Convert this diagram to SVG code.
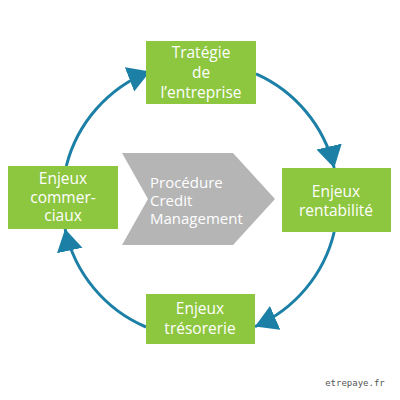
<svg xmlns="http://www.w3.org/2000/svg" width="400" height="400" viewBox="0 0 400 400">
<style>
.box{fill:#8dc63f}
.t{fill:#ffffff;font-family:"Open Sans","Noto Sans",sans-serif;font-size:15.5px;text-anchor:middle}
.ct{fill:#ffffff;font-family:"Open Sans","Noto Sans",sans-serif;font-size:15px}
.arc{fill:none;stroke:#1b7fa6;stroke-width:3}
.wm{fill:#555;font-family:"DejaVu Sans Mono",monospace;font-size:9px}
</style>
<defs>
<marker id="ah" markerUnits="userSpaceOnUse" markerWidth="24" markerHeight="28" refX="22" refY="13" orient="auto" viewBox="0 0 24 28">
<path d="M0,0 L22,13 L0,26 z" fill="#1b7fa6"/>
</marker>
</defs>
<rect width="400" height="400" fill="#ffffff"/>
<g id="connectors">
<path class="arc" marker-end="url(#ah)" d="M66.3 166 A138 138 0 0 1 150 71.4"/>
<path class="arc" marker-end="url(#ah)" d="M256 73.9 A138 138 0 0 1 334.2 168"/>
<path class="arc" marker-end="url(#ah)" d="M334.2 232 A138 138 0 0 1 255 326.6"/>
<path class="arc" marker-end="url(#ah)" d="M146 327 A138 138 0 0 1 65.1 229"/>
</g>
<g id="procedure">
<polygon points="122,153 233,153 275,199 233,245 122,245 148,199" fill="#b5b5b5"/>
<text class="ct" x="150" y="188">Procédure</text>
<text class="ct" x="150" y="206">Credit</text>
<text class="ct" x="150" y="224">Management</text>
</g>
<g id="strategie">
<rect class="box" x="146" y="41" width="110" height="63"/>
<text class="t" x="201" y="58">Tratégie</text>
<text class="t" x="201" y="78">de</text>
<text class="t" x="201" y="98">l’entreprise</text>
</g>
<g id="rentabilite">
<rect class="box" x="282" y="168" width="109" height="64"/>
<text class="t" x="336" y="197">Enjeux</text>
<text class="t" x="336" y="216">rentabilité</text>
</g>
<g id="tresorerie">
<rect class="box" x="146" y="294" width="109" height="50"/>
<text class="t" x="200" y="314">Enjeux</text>
<text class="t" x="200" y="334">trésorerie</text>
</g>
<g id="commerciaux">
<rect class="box" x="8" y="166" width="110" height="63"/>
<text class="t" x="63" y="184">Enjeux</text>
<text class="t" x="63" y="203">commer-</text>
<text class="t" x="63" y="221">ciaux</text>
</g>
<text class="wm" x="355" y="386" text-anchor="middle">etrepaye.fr</text>
</svg>
